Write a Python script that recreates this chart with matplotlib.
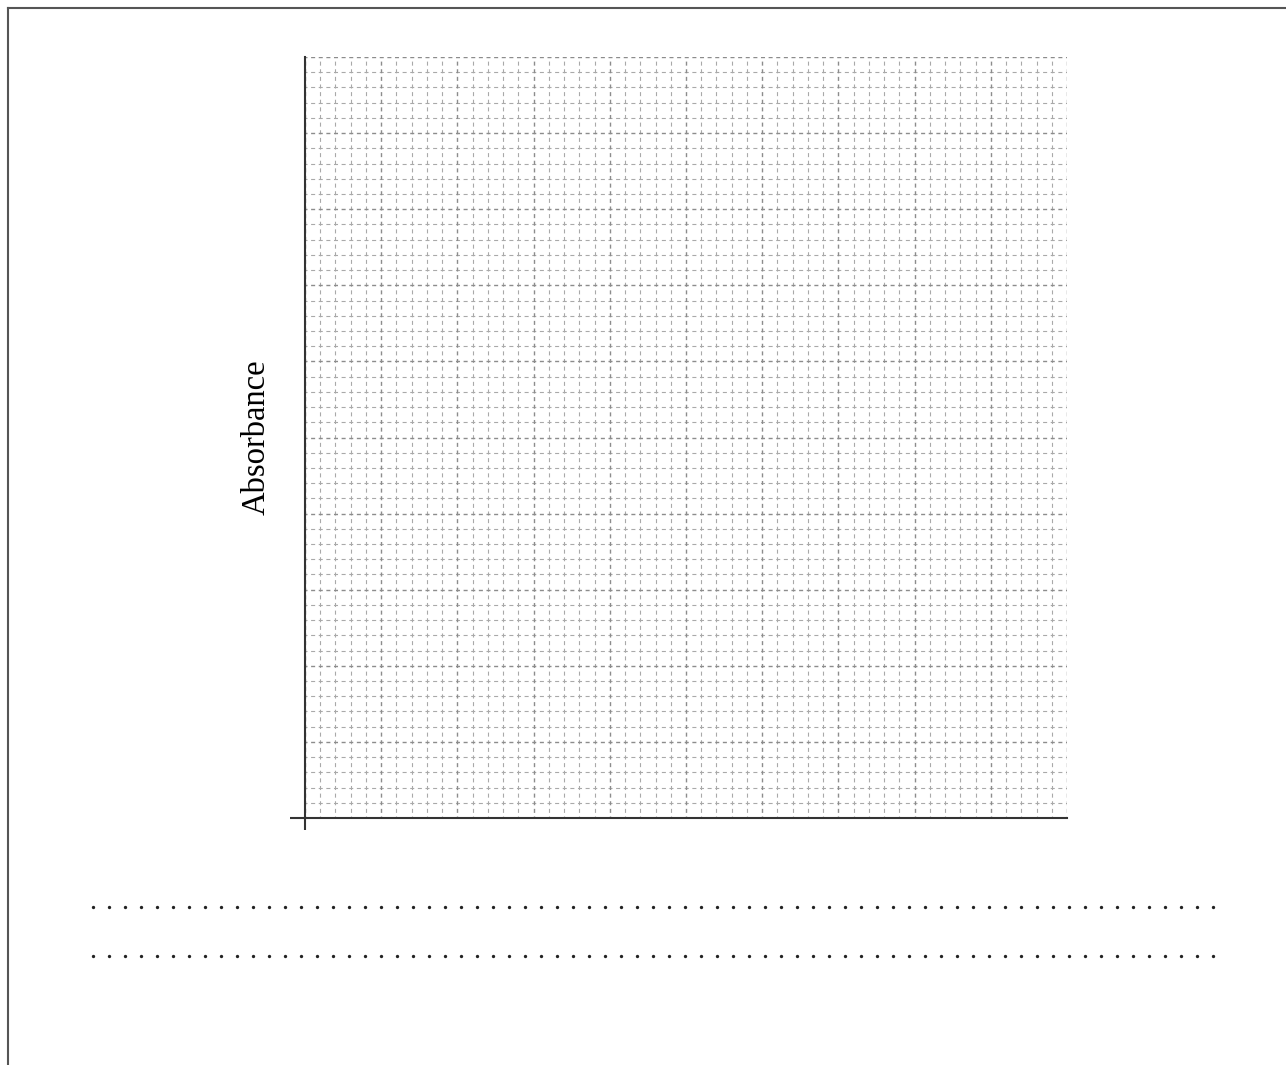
import matplotlib.pyplot as plt
from matplotlib.lines import Line2D
import numpy as np

plt.rcParams['lines.scale_dashes'] = False

# Blank graph-paper grid: 50 x 50 small squares, a heavier line every 5
n_squares = 50
major_every = 5
y_label = 'Absorbance'
x_label = ''

# answer lines of dots under the grid
n_dots = 71
answer_rows = 2

W, H = 1286, 1065
fig = plt.figure(figsize=(W / 100, H / 100), dpi=100)

# grid area in pixels: x 305..1067, y 57..818 (from top)
left, right, top, bottom = 305, 1067, 57, 818
ax = fig.add_axes([left / W, 1 - bottom / H, (right - left) / W, (bottom - top) / H])
ax.set_xlim(0, n_squares)
ax.set_ylim(0, n_squares)

lines_at = np.arange(0, n_squares + 1)
minor = [v for v in lines_at if v % major_every != 0]
major = [v for v in lines_at if v % major_every == 0]

# two dashes per small square, one centred on each crossing
dash = (1.45, (2.9, 2.59))
ax.vlines(minor, 0, n_squares, colors='#a9a9a9', linewidth=0.8, linestyles=[dash])
ax.hlines(minor, 0, n_squares, colors='#a9a9a9', linewidth=0.8, linestyles=[dash])
ax.vlines(major, 0, n_squares, colors='#8c8c8c', linewidth=1.0, linestyles=[dash])
ax.hlines(major, 0, n_squares, colors='#8c8c8c', linewidth=1.0, linestyles=[dash])

for side in ['top', 'right']:
    ax.spines[side].set_visible(False)
for side in ['left', 'bottom']:
    ax.spines[side].set_linewidth(1.5)
    ax.spines[side].set_color('#333333')
    ax.spines[side].set_zorder(5)

# only the origin ticks, sticking out past the axes
ax.set_xticks([0])
ax.set_yticks([0])
ax.set_xticklabels([])
ax.set_yticklabels([])
ax.tick_params(axis='x', direction='out', length=8.6, width=1.5, color='#333333')
ax.tick_params(axis='y', direction='out', length=10.8, width=1.5, color='#333333')

ax.set_ylabel(y_label, family='Liberation Serif', fontsize=23.5, labelpad=9.5)
ax.set_xlabel(x_label)

# page border (top and left edges)
fig.add_artist(Line2D([8 / W, 1], [1 - 8 / H, 1 - 8 / H], color='#555555', lw=1.5))
fig.add_artist(Line2D([8 / W, 8 / W], [0, 1 - 8 / H], color='#555555', lw=1.5))

# dotted answer lines
dot_x = (93 + 16 * np.arange(n_dots)) / W
for row_y in [907, 956][:answer_rows]:
    fig.add_artist(Line2D(dot_x, np.full(n_dots, 1 - row_y / H), linestyle='none',
                          marker='o', markersize=2.4, markeredgewidth=0, color='#222222'))

fig.savefig('out.png', dpi=100)
